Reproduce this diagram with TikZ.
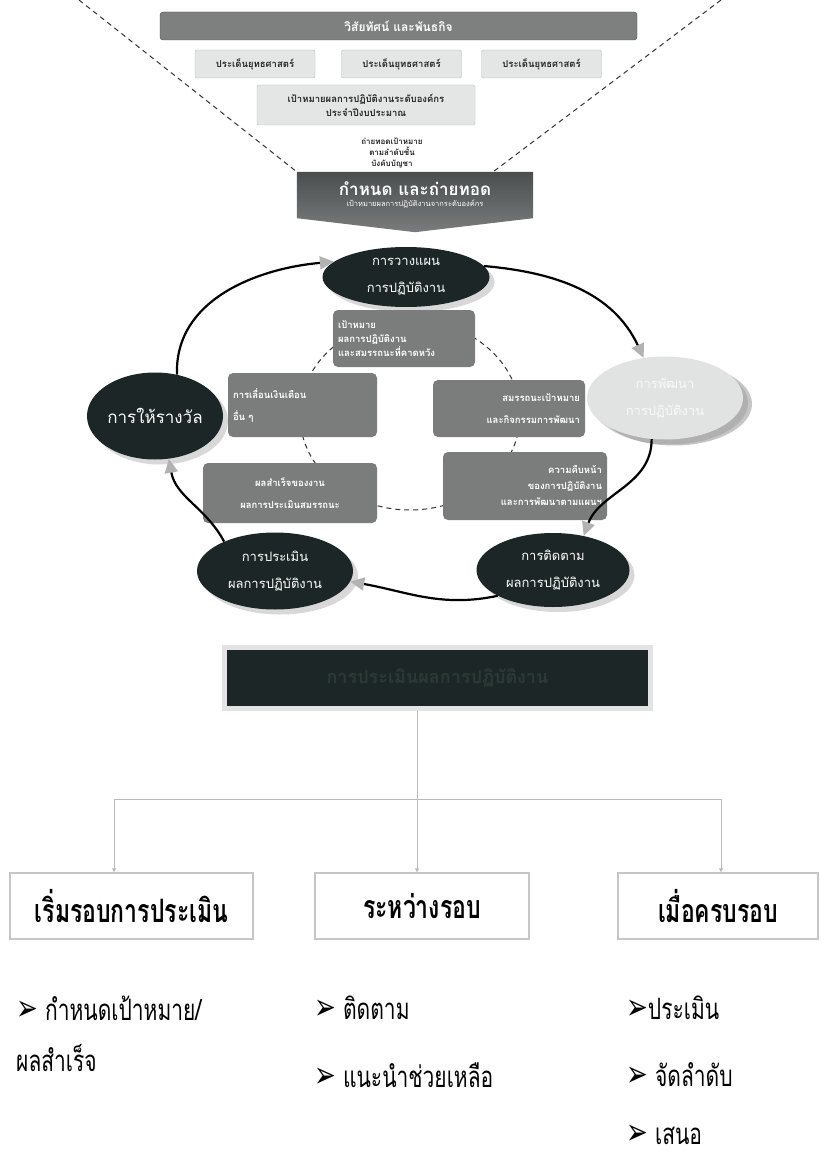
\documentclass[tikz,border=0pt]{standalone}
\usepackage{fontspec}
\newfontfamily\thaifont[Script=Thai]{Loma}
\newfontfamily\dingfont{DejaVu Sans}
\usetikzlibrary{shapes,arrows.meta,positioning,calc,backgrounds,fit,shadows}
\definecolor{ink}{HTML}{1D2626}
\definecolor{slate}{HTML}{7B7D7D}
\definecolor{pale}{HTML}{E4E5E5}
\definecolor{barfill}{HTML}{7E8080}
\definecolor{bandtop}{HTML}{4A4E4E}
\definecolor{bandbot}{HTML}{7A7C7C}
\definecolor{haze}{HTML}{E1E2E2}
\definecolor{dimtext}{HTML}{2C3A37}
\newcommand{\tick}{{\dingfont\fontsize{26}{26}\selectfont ➢}}
\newcommand{\stretchy}[1]{\scalebox{1}[1.4]{#1}}

\begin{document}
\begin{tikzpicture}[x=1pt,y=-1pt,
  topbar/.style={fill=barfill, draw=gray!60!black, rounded corners=3pt, text=white,
    font=\thaifont\bfseries\fontsize{12}{14}\selectfont, minimum width=477, minimum height=28},
  issue/.style={fill=pale, draw=gray!55, rounded corners=2pt, text=black!85,
    font=\thaifont\bfseries\fontsize{9.5}{12}\selectfont, minimum width=120, minimum height=28},
  funnel/.style={black!80, line width=1pt, dash pattern=on 5pt off 4pt},
  stage/.style={ellipse, fill=ink, text=white, align=center, inner sep=0pt,
    font=\thaifont\fontsize{13}{27}\selectfont,
    drop shadow={opacity=0.3, shadow xshift=5pt, shadow yshift=-5pt}},
  note/.style={fill=slate, rounded corners=5pt, text=white, inner sep=5pt,
    font=\thaifont\bfseries\fontsize{9.5}{20}\selectfont},
  cyc/.style={line width=2.2pt, black, -{Triangle[length=14pt,width=13pt,color=gray!60]}},
  phase/.style={draw=gray!45, line width=1.5pt, fill=white, minimum height=66,
    font=\thaifont\bfseries\fontsize{23}{28}\selectfont},
  tree/.style={gray!55, line width=1pt, -{Triangle[length=4pt,width=4pt]}},
  item/.style={anchor=west, inner sep=0pt, font=\thaifont\fontsize{21}{26}\selectfont}]

\begin{scope}[on background layer]
  \fill[white] (0,0) rectangle (821,1158);
\end{scope}
\useasboundingbox (0,0) rectangle (821,1158);

% funnel at the top
\node[topbar] (vision) at (398.5,26) {วิสัยทัศน์ และพันธกิจ};
\node[issue] (issue1) at (255,64) {ประเด็นยุทธศาสตร์};
\node[issue] (issue2) at (401.5,64) {ประเด็นยุทธศาสตร์};
\node[issue] (issue3) at (541.5,64) {ประเด็นยุทธศาสตร์};
\node[issue, minimum width=218, minimum height=40, align=center, font=\thaifont\bfseries\fontsize{9.5}{14}\selectfont]
  (orggoal) at (366,105) {เป้าหมายผลการปฏิบัติงานระดับองค์กร\\ประจำปีงบประมาณ};
\node[align=center, font=\thaifont\bfseries\fontsize{8}{11}\selectfont, text=black!85] (cascade) at (392,153)
  {ถ่ายทอดเป้าหมาย\\ตามลำดับชั้น\\บังคับบัญชา};

\node[minimum width=236, minimum height=46, align=center, text=white, inner sep=0pt] (define) at (415,195)
  {{\thaifont\bfseries\fontsize{17}{20}\selectfont กำหนด และถ่ายทอด}\\[-1pt]
   {\thaifont\fontsize{7.5}{9}\selectfont เป้าหมายผลการปฏิบัติงานจากระดับองค์กร}};
\begin{scope}[on background layer]
  \shade[top color=bandtop, bottom color=bandbot] (define.north west) -- (define.north east)
    -- (define.south east) -- ($(define.south)+(0,14)$) -- (define.south west) -- cycle;
\end{scope}
\coordinate (fl) at (79,0);
\coordinate (fr) at (721,0);
\draw[funnel] (fl) -- (define.north west);
\draw[funnel] (fr) -- ($(define.north east)+(-40,0)$);

% the cycle
\draw[black!80, line width=1pt, dash pattern=on 5pt off 4pt] (410,415) ellipse [x radius=110, y radius=95];

\node[stage, minimum width=167, minimum height=60] (plan) at (406,277) {การวางแผน\\การปฏิบัติงาน};
\node[stage, minimum width=136, minimum height=87, font=\thaifont\fontsize{17}{20}\selectfont] (reward) at (155,416) {การให้รางวัล};
\node[stage, fill=haze, text=white!95!gray, minimum width=156, minimum height=83,
  drop shadow={opacity=0.45, shadow xshift=9pt, shadow yshift=-6pt}] (develop) at (665,398) {การพัฒนา\\การปฏิบัติงาน};
\node[stage, minimum width=153, minimum height=74] (track) at (553,570) {การติดตาม\\ผลการปฏิบัติงาน};
\node[stage, minimum width=156, minimum height=77] (assess) at (275,571) {การประเมิน\\ผลการปฏิบัติงาน};

\node[note, text width=132, minimum height=57, align=left] (target) at (404,338.5)
  {เป้าหมาย\\[-6pt]ผลการปฏิบัติงาน\\[-6pt]และสมรรถนะที่คาดหวัง};
\node[note, text width=139, minimum height=64, align=left] (raise) at (302.5,405)
  {การเลื่อนเงินเดือน\\[2pt]อื่น ๆ};
\node[note, text width=142, minimum height=57, align=right] (skill) at (509,408.5)
  {สมรรถนะเป้าหมาย\\[2pt]และกิจกรรมการพัฒนา};
\node[note, text width=154, minimum height=68, align=right] (progress) at (525,486)
  {ความคืบหน้า\\[-4pt]ของการปฏิบัติงาน\\[-4pt]และการพัฒนาตามแผนฯ};
\node[note, text width=164, minimum height=60, align=center] (result) at (290,493)
  {ผลสำเร็จของงาน\\[2pt]ผลการประเมินสมรรถนะ};

\draw[cyc] (reward.62) to[out=92,in=185] (plan.168);
\draw[cyc] (plan.8) to[out=-5,in=115] (develop.118);
\draw[cyc] (develop.-108) to[out=-90,in=70] (track.48);
\draw[cyc] (track.205) to[out=192,in=-10] (assess.-8);
\draw[cyc] (assess.150) to[out=118,in=-80] (reward.-72);

% appraisal and its three phases
\node[fill=ink, draw=gray!22, line width=5pt, minimum width=426, minimum height=61,
  text=dimtext, font=\thaifont\bfseries\fontsize{18}{22}\selectfont] (appraise) at (437.5,678)
  {การประเมินผลการปฏิบัติงาน};

\node[phase, minimum width=243] (start) at (131.5,906) {\stretchy{เริ่มรอบการประเมิน}};
\node[phase, minimum width=214] (during) at (422,906) {\stretchy{ระหว่างรอบ}};
\node[phase, minimum width=200] (finish) at (718,906) {\stretchy{เมื่อครบรอบ}};

\coordinate (split) at (417,799);
\coordinate (tl) at (114,799);
\coordinate (tr) at (721,799);
\draw[gray!55, line width=1pt] (split |- appraise.south) -- (split);
\draw[gray!55, line width=1pt] (tl) -- (tr);
\draw[tree] (tl) -- (tl |- start.north);
\draw[tree] (split) -- (split |- during.north);
\draw[tree] (tr) -- (tr |- finish.north);

\node[item] (set) at (16,1008) {\stretchy{\tick\ กำหนดเป้าหมาย/}};
\node[item] (setb) at (16,1058) {\stretchy{ผลสำเร็จ}};
\node[item] (follow) at (314,1008) {\stretchy{\tick\ ติดตาม}};
\node[item] (coach) at (314,1075) {\stretchy{\tick\ แนะนำช่วยเหลือ}};
\node[item] (rate) at (626,1008) {\stretchy{\tick ประเมิน}};
\node[item] (rank) at (626,1075) {\stretchy{\tick\ จัดลำดับ}};
\node[item] (offer) at (626,1135) {\stretchy{\tick\ เสนอ}};
\end{tikzpicture}
\end{document}
